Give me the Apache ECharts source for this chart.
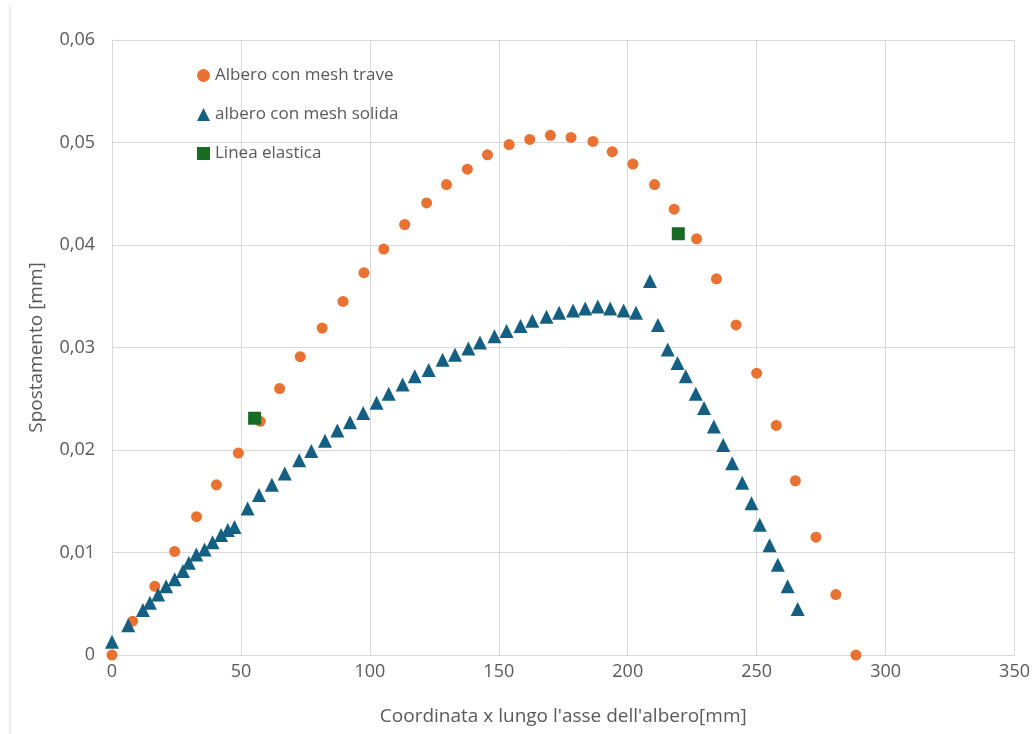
<!DOCTYPE html>
<html>
<head>
<meta charset="utf-8">
<script src="https://cdn.jsdelivr.net/npm/echarts@6/dist/echarts.min.js"></script>
<style>
  html, body { margin: 0; padding: 0; background: #fff; }
  #chart { width: 1033px; height: 734px; }
</style>
</head>
<body>
<div id="chart"></div>
<script>
// Albero con mesh trave
const traveX = [0, 8, 16.6, 24.3, 32.8, 40.5, 49, 57.5, 65, 73, 81.5, 89.6, 97.7, 105.4, 113.5, 122, 129.7, 137.8, 145.6, 154, 162, 170, 178, 186.5, 194, 202, 210.4, 218, 226.7, 234.4, 242, 250, 257.6, 265, 273, 280.7, 288.5];
const traveY = [0, 0.0033, 0.0067, 0.0101, 0.0135, 0.0166, 0.0197, 0.0228, 0.026, 0.0291, 0.0319, 0.0345, 0.0373, 0.0396, 0.042, 0.0441, 0.0459, 0.0474, 0.0488, 0.0498, 0.0503, 0.0507, 0.0505, 0.0501, 0.0491, 0.0479, 0.0459, 0.0435, 0.0406, 0.0367, 0.0322, 0.0275, 0.0224, 0.017, 0.0115, 0.0059, 0];

// albero con mesh solida
const solidaX = [0, 6.3, 12, 14.7, 17.9, 21, 24.3, 27.5, 29.8, 32.7, 35.9, 39, 42.3, 44.9, 47.5, 52.6, 57, 62, 67, 72.6, 77.3, 82.6, 87.4, 92.3, 97.4, 102.6, 107.3, 112.7, 117.4, 122.8, 128.2, 133, 138.2, 142.7, 148.3, 153, 158.4, 163, 168.5, 173.4, 178.8, 183.5, 188.4, 193.2, 198.4, 203.2, 208.6, 211.7, 215.5, 219.3, 222.5, 226.4, 229.6, 233.4, 237, 240.5, 244.4, 248, 251.2, 255, 258.2, 262, 265.9];
const solidaY = [0.0013, 0.0029, 0.0044, 0.0051, 0.0059, 0.0067, 0.0074, 0.0082, 0.009, 0.0098, 0.0103, 0.011, 0.0117, 0.0122, 0.0125, 0.0143, 0.0156, 0.0166, 0.0177, 0.019, 0.0199, 0.0209, 0.0219, 0.0227, 0.0236, 0.0246, 0.0255, 0.0264, 0.0272, 0.0278, 0.0288, 0.0293, 0.0299, 0.0305, 0.0311, 0.0316, 0.0321, 0.0326, 0.033, 0.0334, 0.0336, 0.0338, 0.034, 0.0338, 0.0336, 0.0334, 0.0365, 0.0322, 0.0298, 0.0285, 0.0272, 0.0255, 0.0241, 0.0223, 0.0205, 0.0187, 0.0168, 0.0148, 0.0127, 0.0107, 0.0088, 0.0067, 0.0045];

// Linea elastica
const elasticaX = [55.3, 219.6];
const elasticaY = [0.0231, 0.0411];

const zip = (xs, ys) => xs.map((x, i) => [x, ys[i]]);

const chart = echarts.init(document.getElementById('chart'));

const textColor = '#595959';
const gridColor = '#d9d9d9';

const option = {
  animation: false,
  textStyle: { fontFamily: '"Open Sans", sans-serif' },
  grid: { left: 112, right: 18, top: 40, bottom: 79 },
  graphic: [
    {
      type: 'line',
      shape: { x1: 10, y1: 5, x2: 10, y2: 734 },
      style: { stroke: gridColor, lineWidth: 1 }
    }
  ],
  legend: {
    orient: 'vertical',
    left: 192,
    top: 62,
    itemGap: 22,
    itemWidth: 13,
    itemHeight: 13,
    textStyle: { color: textColor, fontSize: 17 },
    data: ['Albero con mesh trave', 'albero con mesh solida', 'Linea elastica']
  },
  xAxis: {
    type: 'value',
    min: 0,
    max: 350,
    interval: 50,
    name: "Coordinata x lungo l'asse dell'albero[mm]",
    nameLocation: 'middle',
    nameGap: 52,
    nameTextStyle: { color: textColor, fontSize: 19 },
    axisLine: { show: true, lineStyle: { color: gridColor } },
    axisTick: { show: false },
    axisLabel: { color: textColor, fontSize: 18, margin: 8 },
    splitLine: { show: true, lineStyle: { color: gridColor } }
  },
  yAxis: {
    type: 'value',
    min: 0,
    max: 0.06,
    interval: 0.01,
    name: 'Spostamento [mm]',
    nameLocation: 'middle',
    nameGap: 66,
    nameTextStyle: { color: textColor, fontSize: 19 },
    axisLine: { show: true, lineStyle: { color: gridColor } },
    axisTick: { show: false },
    axisLabel: {
      color: textColor,
      fontSize: 18,
      margin: 17,
      formatter: v => v === 0 ? '0' : v.toFixed(2).replace('.', ',')
    },
    splitLine: { show: true, lineStyle: { color: gridColor } }
  },
  series: [
    {
      name: 'Albero con mesh trave',
      type: 'scatter',
      symbol: 'circle',
      symbolSize: 11,
      itemStyle: { color: '#E97132', opacity: 1 },
      data: zip(traveX, traveY)
    },
    {
      name: 'albero con mesh solida',
      type: 'scatter',
      symbol: 'triangle',
      symbolSize: 14,
      itemStyle: { color: '#156082', opacity: 1 },
      data: zip(solidaX, solidaY)
    },
    {
      name: 'Linea elastica',
      type: 'scatter',
      symbol: 'rect',
      symbolSize: 13,
      itemStyle: { color: '#196B24', opacity: 1 },
      data: zip(elasticaX, elasticaY)
    }
  ]
};

chart.setOption(option);
</script>
</body>
</html>
